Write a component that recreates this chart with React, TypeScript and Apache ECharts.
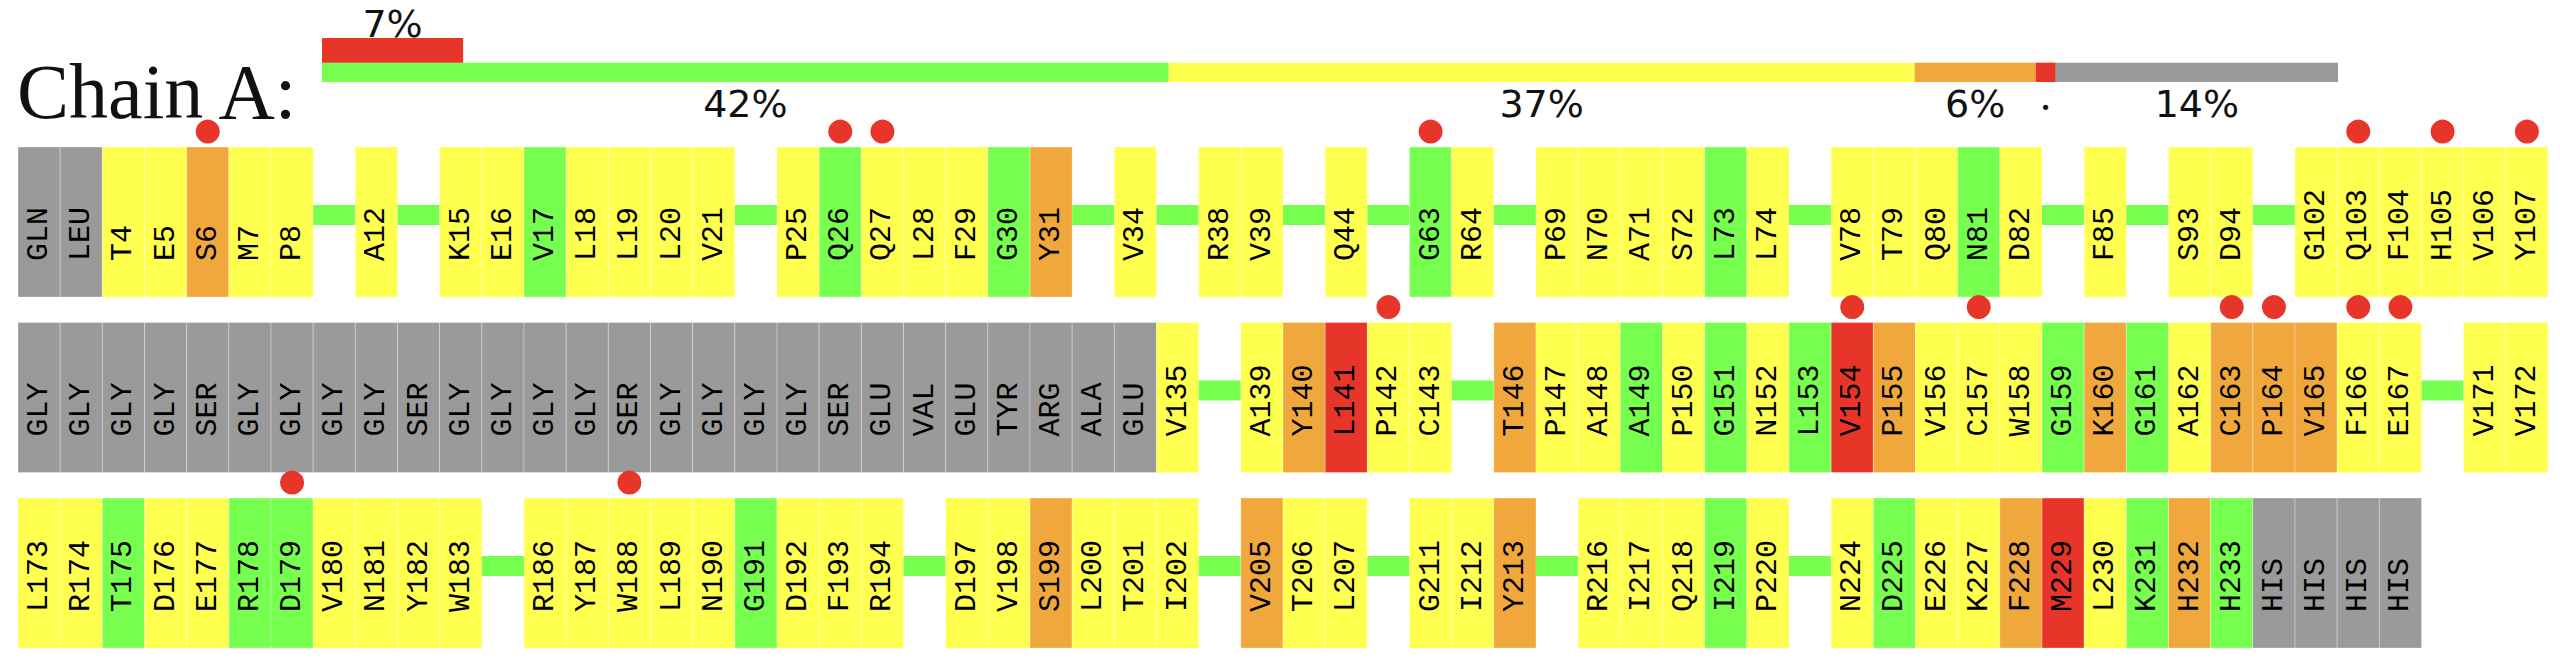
import React, { useEffect, useRef } from "react";
import * as echarts from "echarts";

// ---------- data ----------
const chainName = "Chain A:";

const qualityKeys = ["G", "Y", "O", "R", "X"];
const qualityPercents = [42, 37, 6, 1, 14];
const qualityLabels = ["42%", "37%", "6%", "•", "14%"];
const densityOutlierPercent = 7;
const densityOutlierLabel = "7%";

const row1Residues = [
  "GLN", "LEU", "T4", "E5", "S6", "M7", "P8", "-", "A12", "-", "K15", "E16", "V17", "L18", "L19",
  "L20", "V21", "-", "P25", "Q26", "Q27", "L28", "F29", "G30", "Y31", "-", "V34", "-", "R38", "V39",
  "-", "Q44", "-", "G63", "R64", "-", "P69", "N70", "A71", "S72", "L73", "L74", "-", "V78", "T79",
  "Q80", "N81", "D82", "-", "F85", "-", "S93", "D94", "-", "G102", "Q103", "F104", "H105", "V106", "Y107",
];
const row1Quality = "XXYYOYY-Y-YYGYYYY-YGYYYGO-Y-YY-Y-GY-YYYYGY-YYYGY-Y-YY-YYYYYY".split("");

const row2Residues = [
  "GLY", "GLY", "GLY", "GLY", "SER", "GLY", "GLY", "GLY", "GLY", "SER", "GLY", "GLY", "GLY", "GLY", "SER",
  "GLY", "GLY", "GLY", "GLY", "SER", "GLU", "VAL", "GLU", "TYR", "ARG", "ALA", "GLU", "V135", "-", "A139",
  "Y140", "L141", "P142", "C143", "-", "T146", "P147", "A148", "A149", "P150", "G151", "N152", "L153", "V154", "P155",
  "V156", "C157", "W158", "G159", "K160", "G161", "A162", "C163", "P164", "V165", "F166", "E167", "-", "V171", "V172",
];
const row2Quality = "XXXXXXXXXXXXXXXXXXXXXXXXXXXY-YORYY-OYYGYGYGROYYYGOGYOOOYY-YY".split("");

const row3Residues = [
  "L173", "R174", "T175", "D176", "E177", "R178", "D179", "V180", "N181", "Y182", "W183", "-", "R186", "Y187", "W188",
  "L189", "N190", "G191", "D192", "F193", "R194", "-", "D197", "V198", "S199", "L200", "T201", "I202", "-", "V205",
  "T206", "L207", "-", "G211", "I212", "Y213", "-", "R216", "I217", "Q218", "I219", "P220", "-", "N224", "D225",
  "E226", "K227", "F228", "M229", "L230", "K231", "H232", "H233", "HIS", "HIS", "HIS", "HIS",
];
const row3Quality = "YYGYYGGYYYY-YYYYYGYYY-YYOYYY-OYY-YYO-YYYGY-YGYYORYGOGXXXX".split("");

const rsrzOutliers = [
  "S6", "Q26", "Q27", "G63", "Q103", "H105", "Y107",
  "P142", "V154", "C157", "C163", "P164", "F166", "E167",
  "D179", "W188",
];

const slotsPerRow = 60;

// ---------- styling ----------
const qualityColor: Record<string, string> = {
  G: "#76FF4E",
  Y: "#FFFF50",
  O: "#F0A83C",
  R: "#E8352A",
  X: "#9A9A9A",
};

// ---------- derived tables ----------
type Cell = { slot: number; row: number; label: string; code: string; outlier: boolean };
const rowsData = [
  { residues: row1Residues, quality: row1Quality },
  { residues: row2Residues, quality: row2Quality },
  { residues: row3Residues, quality: row3Quality },
];
const cells: Cell[] = [];
rowsData.forEach((r, ri) =>
  r.residues.forEach((label, si) =>
    cells.push({ slot: si, row: ri, label, code: r.quality[si], outlier: rsrzOutliers.includes(label) })
  )
);

type HeaderItem = { start: number; value: number; color: string; label: string; band: string };
const headerItems: HeaderItem[] = [];
{
  let acc = 0;
  qualityPercents.forEach((v, i) => {
    headerItems.push({ start: acc, value: v, color: qualityColor[qualityKeys[i]], label: qualityLabels[i], band: "main" });
    acc += v;
  });
  headerItems.push({ start: 0, value: densityOutlierPercent, color: qualityColor.R, label: densityOutlierLabel, band: "top" });
}

export default function App() {
  const ref = useRef<HTMLDivElement>(null);
  useEffect(() => {
    if (!ref.current) return;
    const chart = echarts.init(ref.current, undefined, { renderer: "svg" });
    const option: any = {
      animation: false,
      backgroundColor: "#ffffff",
      grid: [
        { left: 322, top: 38, width: 2016, height: 44 },
        { left: 18, top: 147, width: 2530, height: 351 },
      ],
      xAxis: [
        { type: "value", gridIndex: 0, min: 0, max: 100, show: false },
        { type: "value", gridIndex: 1, min: 0, max: slotsPerRow, show: false },
      ],
      yAxis: [
        { type: "value", gridIndex: 0, min: 0, max: 1, show: false },
        { type: "value", gridIndex: 1, min: 0, max: 2, inverse: true, show: false },
      ],
      graphic: [
        {
          type: "text",
          x: 17,
          y: 91,
          style: {
            text: chainName,
            fontFamily: "Liberation Serif",
            fontSize: 78,
            fill: "#111",
            verticalAlign: "middle",
            textVerticalAlign: "middle",
          },
        },
      ],
      series: [
        {
          type: "custom",
          xAxisIndex: 0,
          yAxisIndex: 0,
          data: headerItems.map((h) => [h.start, 0]),
          renderItem: (params: any, api: any) => {
            const h = headerItems[params.dataIndex];
            const cs = params.coordSys;
            const xa = api.coord([h.start, 0])[0];
            const xb = api.coord([h.start + h.value, 0])[0];
            const isTop = h.band === "top";
            const y0 = isTop ? cs.y : cs.y + cs.height * 0.56;
            const y1 = isTop ? cs.y + cs.height * 0.56 : cs.y + cs.height;
            const ty = isTop ? cs.y - 14 : cs.y + cs.height + 22;
            const small = h.label === "•";
            return {
              type: "group",
              children: [
                { type: "rect", shape: { x: xa, y: y0, width: xb - xa, height: y1 - y0 }, style: { fill: h.color } },
                {
                  type: "text",
                  x: (xa + xb) / 2,
                  y: small ? ty + 3 : ty,
                  style: {
                    text: h.label,
                    fill: "#111",
                    fontFamily: "DejaVu Sans",
                    fontSize: small ? 18 : 38,
                    align: "center",
                    verticalAlign: "middle",
                  },
                },
              ],
            };
          },
        },
        {
          type: "custom",
          xAxisIndex: 1,
          yAxisIndex: 1,
          data: cells.map((c) => [c.slot, c.row]),
          renderItem: (params: any, api: any) => {
            const c = cells[params.dataIndex];
            const p = api.coord([c.slot, c.row]);
            const sz = api.size([1, 1]);
            const w = Math.abs(sz[0]);
            const pitch = Math.abs(sz[1]);
            const cx = p[0] + w / 2;
            if (c.label === "-") {
              return {
                type: "rect",
                shape: { x: p[0], y: p[1] + pitch * 0.33, width: w, height: pitch * 0.114 },
                style: { fill: qualityColor.G },
              };
            }
            const children: any[] = [
              {
                type: "rect",
                shape: { x: p[0], y: p[1], width: w, height: pitch * 0.855 },
                style: { fill: qualityColor[c.code], stroke: "rgba(255,255,255,0.3)", lineWidth: 1 },
              },
              {
                type: "text",
                x: cx,
                y: p[1] + pitch * 0.65,
                rotation: Math.PI / 2,
                style: {
                  text: c.label,
                  fill: "#000",
                  fontFamily: "Liberation Mono",
                  fontSize: 30,
                  fontWeight: "normal",
                  align: "left",
                  verticalAlign: "middle",
                },
              },
            ];
            if (c.outlier) {
              children.push({
                type: "circle",
                shape: { cx, cy: p[1] - pitch * 0.088, r: 12 },
                style: { fill: qualityColor.R },
              });
            }
            return { type: "group", children };
          },
        },
      ],
    };
    chart.setOption(option);
    return () => chart.dispose();
  }, []);
  return (
    <div
      ref={ref}
      style={{ position: "absolute", left: 0, top: 0, width: 2560, height: 669, background: "#fff" }}
    />
  );
}
